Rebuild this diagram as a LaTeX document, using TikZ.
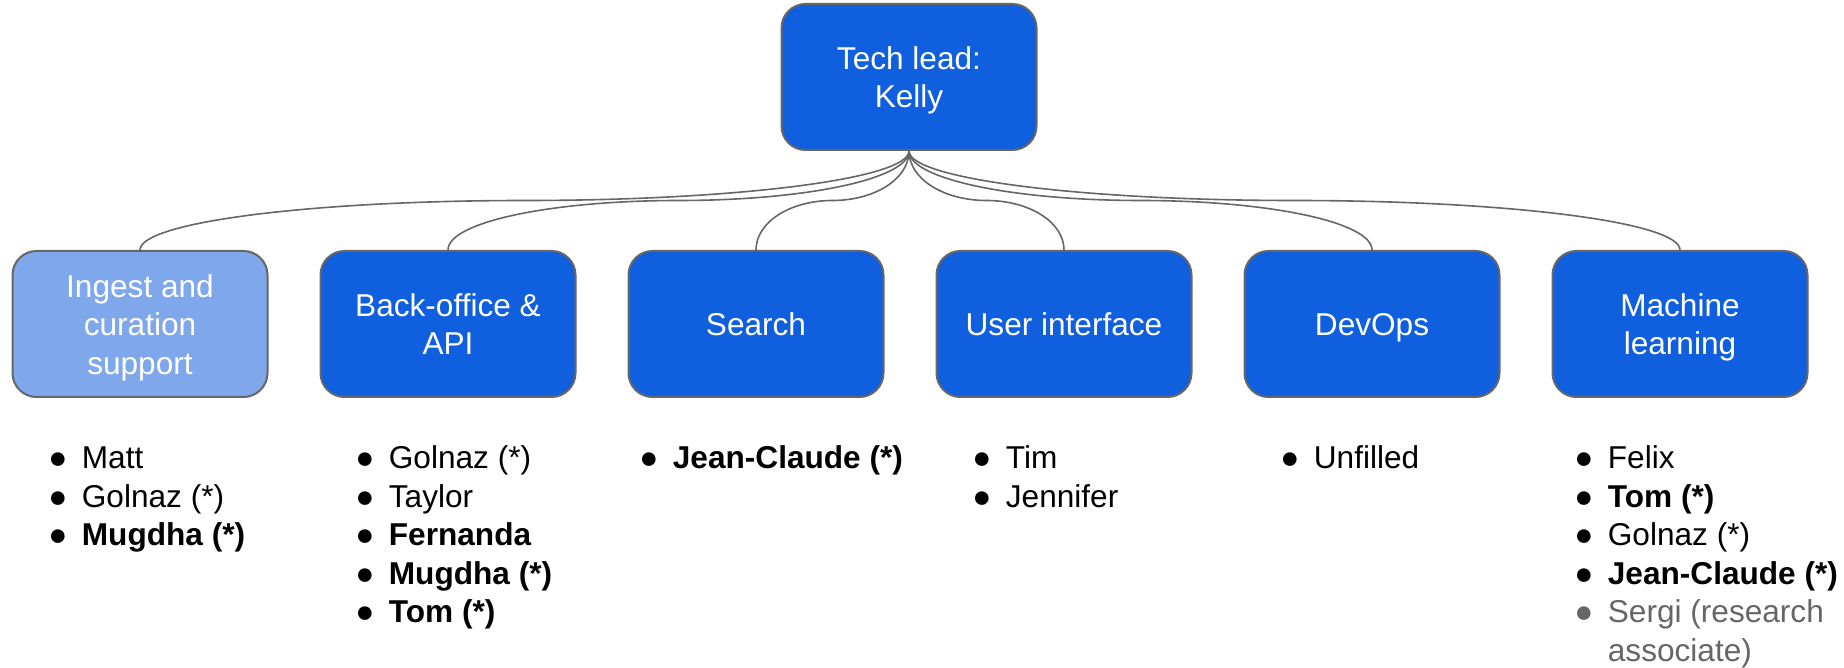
\documentclass[tikz,border=0pt]{standalone}
\usepackage{fontspec}
\setmainfont{Liberation Sans}
\usetikzlibrary{calc}
\definecolor{teamblue}{HTML}{0F5FDE}
\definecolor{lightblue}{HTML}{7FA7EC}
\definecolor{edgegray}{HTML}{666666}
\definecolor{mutedgray}{HTML}{666666}
\newcommand{\itm}{\strut\makebox[16.75pt][l]{●}}
\newcommand{\boxline}[1]{\raisebox{0pt}[11.7pt][0pt]{#1}}
\begin{document}
\begin{tikzpicture}[x=0.5pt, y=-0.5pt]
\tikzstyle{teamstyle} = [
  shape=rectangle,
  rounded corners=12pt,
  minimum width=127.5pt,
  minimum height=73pt,
  inner sep=0pt,
  draw=edgegray,
  line width=1pt,
  fill=teamblue,
  text=white,
  align=center,
  font=\fontsize{15.8}{19.3}\selectfont
]
\tikzstyle{liststyle} = [
  anchor=north west,
  inner sep=0pt,
  align=left,
  font=\fontsize{15.8}{19.3}\selectfont
]
\tikzstyle{tedge} = [
  draw=edgegray,
  line width=0.8pt,
  to path={let \p1=(\tikztostart), \p2=(\tikztotarget) in
    .. controls (\x1,\y1-14pt) and ({(\x1+\x2)/2+0.275*(\x1-\x2)},{(\y1+\y2)/2})
    .. ({(\x1+\x2)/2},{(\y1+\y2)/2})
    .. controls ({(\x1+\x2)/2-0.275*(\x1-\x2)},{(\y1+\y2)/2}) and (\x2,\y2+14pt)
    .. (\p2)}
]

\useasboundingbox (0,0) rectangle (1844,668);

\node [teamstyle] (lead) at (909,77) {\boxline{Tech lead:}\\\boxline{Kelly}};

\node [teamstyle, fill=lightblue] (ingest) at (140,324) {\boxline{Ingest and}\\\boxline{curation}\\\boxline{support}};
\node [teamstyle] (backoffice) at (448,324) {\boxline{Back-office \&}\\\boxline{API}};
\node [teamstyle] (search) at (756,324) {\boxline{Search}};
\node [teamstyle] (ui) at (1064,324) {\boxline{User interface}};
\node [teamstyle] (devops) at (1372,324) {\boxline{DevOps}};
\node [teamstyle] (ml) at (1680,324) {\boxline{Machine}\\\boxline{learning}};

\draw[tedge] (lead.south) to (ingest.north);
\draw[tedge] (lead.south) to (backoffice.north);
\draw[tedge] (lead.south) to (search.north);
\draw[tedge] (lead.south) to (ui.north);
\draw[tedge] (lead.south) to (devops.north);
\draw[tedge] (lead.south) to (ml.north);

\node [liststyle] (ingestlist) at (48,441) {\itm Matt\\\itm Golnaz (*)\\\itm\textbf{Mugdha (*)}};
\node [liststyle] (backofficelist) at (355,441) {\itm Golnaz (*)\\\itm Taylor\\\itm\textbf{Fernanda}\\\itm\textbf{Mugdha (*)}\\\itm\textbf{Tom (*)}};
\node [liststyle] (searchlist) at (639,441) {\itm\textbf{Jean-Claude (*)}};
\node [liststyle] (uilist) at (972,441) {\itm Tim\\\itm Jennifer};
\node [liststyle] (devopslist) at (1280,441) {\itm Unfilled};
\node [liststyle] (mllist) at (1574,441) {\itm Felix\\\itm\textbf{Tom (*)}\\\itm Golnaz (*)\\\itm\textbf{Jean-Claude (*)}\\
  {\color{mutedgray}\itm Sergi (research}\\{\color{mutedgray}\strut\hspace*{16.75pt}associate)}};

\end{tikzpicture}
\end{document}
